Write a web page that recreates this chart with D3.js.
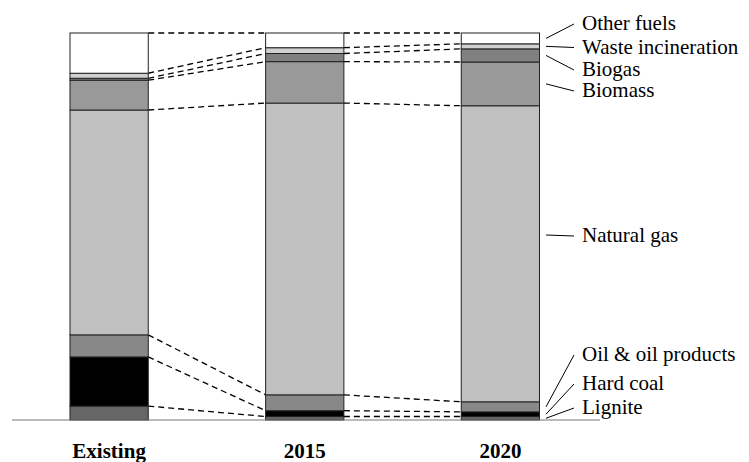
<!DOCTYPE html>
<html>
<head>
<meta charset="utf-8">
<script src="https://cdn.jsdelivr.net/npm/d3@7"></script>
<style>
  html, body { margin: 0; padding: 0; background: #fff; }
  svg { display: block; }
  text { font-family: "Liberation Serif", "Times New Roman", Times, "DejaVu Serif", serif; }
</style>
</head>
<body>
<svg id="chart" width="749" height="462"></svg>
<script>
// ---- Data (share of total, %) ----
const categories = ["Existing", "2015", "2020"];
const fuels = ["Lignite", "Hard coal", "Oil & oil products", "Natural gas", "Biomass", "Biogas", "Waste incineration", "Other fuels"];
const lignite   = [3.6, 0.9, 0.9];
const hardCoal  = [12.7, 1.5, 1.2];
const oil       = [5.7, 4.1, 2.6];
const naturalGas= [58.1, 75.4, 76.5];
const biomass   = [7.7, 10.7, 11.3];
const biogas    = [0.5, 2.1, 3.4];
const waste     = [1.3, 1.5, 1.3];
const otherFuels= [10.4, 3.8, 2.8];
const fuelColors = ["#666666", "#000000", "#888888", "#c0c0c0", "#999999", "#808080", "#d0d0d0", "#ffffff"];
// label annotation layout (pixel y of label text)
const labelY = [407, 383, 354, 235, 90, 69, 46.5, 23];

const series = [lignite, hardCoal, oil, naturalGas, biomass, biogas, waste, otherFuels];

const rows = categories.map((c, i) => {
  const r = { cat: c };
  fuels.forEach((f, j) => r[f] = series[j][i]);
  return r;
});
const stacked = d3.stack().keys(fuels)(rows);

const svg = d3.select("#chart");
const x = d3.scaleBand().domain(categories).range([70, 539.5]).paddingInner(0.6).paddingOuter(0);
const y = d3.scaleLinear().domain([0, 100]).range([420, 33]);
const bw = x.bandwidth();

// connectors (dashed)
const conn = svg.append("g");
stacked.forEach(layer => {
  for (let i = 0; i < categories.length - 1; i++) {
    const a = layer[i], b = layer[i + 1];
    conn.append("line")
      .attr("x1", x(categories[i]) + bw).attr("y1", y(a[1]))
      .attr("x2", x(categories[i + 1])).attr("y2", y(b[1]))
      .attr("stroke", "#000").attr("stroke-width", 1.3)
      .attr("stroke-dasharray", "6,4");
  }
});

// bars
const g = svg.append("g");
stacked.forEach((layer, j) => {
  g.selectAll(null).data(layer).enter().append("rect")
    .attr("x", d => x(d.data.cat))
    .attr("y", d => y(d[1]))
    .attr("width", bw)
    .attr("height", d => y(d[0]) - y(d[1]))
    .attr("fill", fuelColors[j])
    .attr("stroke", "#222").attr("stroke-width", 1);
});

// baseline
svg.append("line").attr("x1", 12).attr("x2", 600).attr("y1", y(0)).attr("y2", y(0))
  .attr("stroke", "#777").attr("stroke-width", 1.2);

// category labels
svg.append("g").selectAll("text").data(categories).enter().append("text")
  .attr("x", d => x(d) + bw / 2)
  .attr("y", 458)
  .attr("text-anchor", "middle")
  .attr("font-weight", "bold")
  .attr("font-size", 21)
  .text(d => d);

// right-side labels with leaders
const last = categories.length - 1;
const lab = svg.append("g");
stacked.forEach((layer, j) => {
  const d = layer[last];
  const mid = (y(d[0]) + y(d[1])) / 2;
  const startY = fuels[j] === "Natural gas" ? labelY[j] : mid;
  lab.append("line")
    .attr("x1", 546).attr("y1", startY)
    .attr("x2", 574).attr("y2", labelY[j] + 1)
    .attr("stroke", "#000").attr("stroke-width", 1);
  lab.append("text")
    .attr("x", 582).attr("y", labelY[j])
    .attr("dominant-baseline", "central")
    .attr("font-size", 21)
    .text(fuels[j]);
});
</script>
</body>
</html>
